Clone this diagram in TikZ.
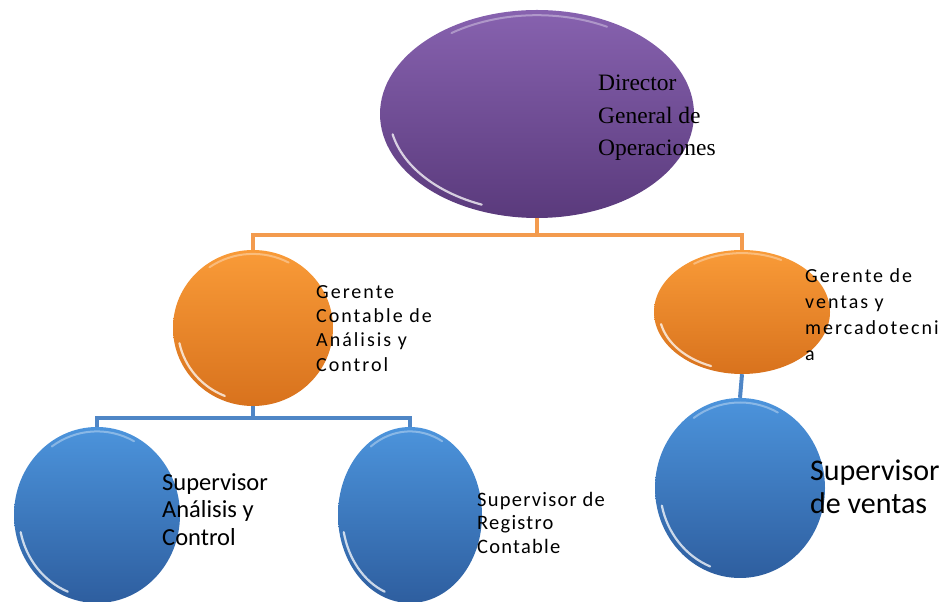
\documentclass[tikz,border=0pt]{standalone}
\usepackage{fontspec}
\usetikzlibrary{shapes.geometric,calc}
\setmainfont{Liberation Serif}
\newfontfamily\calib{Carlito}
\newfontfamily\calibsp[LetterSpace=10]{Carlito}
\newfontfamily\calibspx[LetterSpace=6]{Carlito}

\definecolor{purpTop}{HTML}{8762AF}
\definecolor{purpBot}{HTML}{5A3A7C}
\definecolor{orgTop}{HTML}{F99B38}
\definecolor{orgBot}{HTML}{D8721D}
\definecolor{bluTop}{HTML}{4C94DC}
\definecolor{bluBot}{HTML}{2E5E9F}
\definecolor{orgLine}{HTML}{F39B4E}
\definecolor{bluLine}{HTML}{4F86C6}

\tikzset{
  bubble/.style={ellipse, inner sep=0pt, draw=none},
  purplebub/.style={bubble, top color=purpTop, bottom color=purpBot},
  orangebub/.style={bubble, top color=orgTop, bottom color=orgBot},
  bluebub/.style={bubble, top color=bluTop, bottom color=bluBot},
  orangeline/.style={draw=orgLine, line width=4pt},
  blueline/.style={draw=bluLine, line width=4pt},
  rimlow/.style={draw=white, line width=2.2pt, opacity=0.75, line cap=round},
  rimtop/.style={draw=white, line width=2pt, opacity=0.35, line cap=round},
  lbl/.style={anchor=north west, inner sep=0pt, align=left, text=black},
}

% glossy rim on a bubble: node name, x radius, y radius
\newcommand\bubblegloss[3]{%
  \draw[rimlow] ($(#1.center)+(192:{#2*0.94} and {#3*0.94})$)
    arc[start angle=192, end angle=248, x radius={#2*0.94}, y radius={#3*0.94}];
  \draw[rimtop] ($(#1.center)+(62:{#2*0.95} and {#3*0.95})$)
    arc[start angle=62, end angle=125, x radius={#2*0.95}, y radius={#3*0.95}];
}

\begin{document}
\begin{tikzpicture}[x=1pt, y=1pt]
\useasboundingbox (0,0) rectangle (948,602);

% bubbles
\node[purplebub, minimum width=314, minimum height=208] (dir) at (537,488) {};
\node[orangebub, minimum width=160, minimum height=156] (g1) at (253,274) {};
\node[orangebub, minimum width=176, minimum height=124] (g2) at (742,290) {};
\node[bluebub, minimum width=166, minimum height=176] (s1) at (97,87) {};
\node[bluebub, minimum width=144, minimum height=176] (s2) at (410,87) {};
\node[bluebub, minimum width=170, minimum height=180] (s3) at (740,114) {};

\bubblegloss{dir}{157}{104}
\bubblegloss{g1}{80}{78}
\bubblegloss{g2}{88}{62}
\bubblegloss{s1}{83}{88}
\bubblegloss{s2}{72}{88}
\bubblegloss{s3}{85}{90}

% connectors
\coordinate (obus) at (537,367);
\coordinate (bbus) at (253,184);
\draw[orangeline] (dir.south) -- (obus) -| (g1.north);
\draw[orangeline] (obus) -| (g2.north);
\draw[blueline] (g1.south) -- (bbus) -| (s1.north);
\draw[blueline] (bbus) -| (s2.north);
\draw[blueline] (g2.south) -- (s3.north);

% labels
\node[lbl, font=\fontsize{23.5}{32.5}\selectfont] (tdir) at (598,527)
  {Director\\General de\\Operaciones};
\node[lbl, font=\calibsp\fontsize{20}{24.3}\selectfont] (tg1) at (316,317)
  {Gerente\\Contable de\\Análisis y\\Control};
\node[lbl, font=\calibsp\fontsize{20}{26}\selectfont] (tg2) at (805,334)
  {Gerente de\\ventas y\\mercadotecni\\a};
\node[lbl, font=\calib\fontsize{24.5}{27.5}\selectfont] (ts1) at (162,129)
  {Supervisor\\Análisis y\\Control};
\node[lbl, font=\calibspx\fontsize{20.5}{23.5}\selectfont] (ts2) at (477,110)
  {Supervisor de\\Registro\\Contable};
\node[lbl, font=\calib\fontsize{30}{33}\selectfont] (ts3) at (810,142)
  {Supervisor\\de ventas};
\end{tikzpicture}
\end{document}
